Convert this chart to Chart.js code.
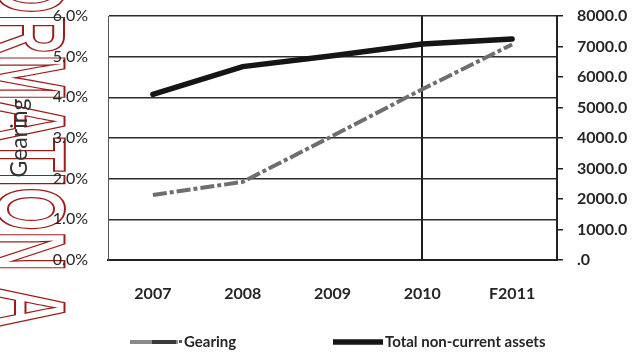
<!DOCTYPE html>
<html>
<head>
<meta charset="utf-8">
<script src="https://cdn.jsdelivr.net/npm/chart.js@4/dist/chart.umd.min.js"></script>
<style>
  html, body { margin: 0; padding: 0; background: #fff; overflow: hidden; }
  #wrap { width: 644px; height: 355px; }
</style>
</head>
<body>
<div id="wrap"><canvas id="c" width="644" height="355"></canvas></div>
<script>
// Years on the category axis
const categories = ['2007', '2008', '2009', '2010', 'F2011'];
// Gearing, percent (left axis)
const gearing = [1.6, 1.92, 3.05, 4.2, 5.3];
// Total non-current assets (right axis)
const nonCurrentAssets = [5430, 6340, 6700, 7080, 7245];
// Axis tick values
const gearingTicks = [0, 1, 2, 3, 4, 5, 6];
const assetTicks = [0, 1000, 2000, 3000, 4000, 5000, 6000, 7000, 8000];
// Series names
const seriesNames = ['Gearing', 'Total non-current assets'];

const FONT = 'Lato, "Open Sans", sans-serif';
const INK = '#262626';

// Red outlined stamp lettering running down the left margin
const stampPlugin = {
  id: 'stamp',
  beforeDraw(chart) {
    const ctx = chart.ctx;
    ctx.save();
    ctx.fillStyle = '#fff';
    ctx.fillRect(0, 0, chart.width, chart.height);
    ctx.translate(-2, -30);
    ctx.rotate(Math.PI / 2);
    ctx.scale(0.585, 1);
    ctx.font = 'bold 96px "Liberation Sans", Arial, sans-serif';
    ctx.textBaseline = 'alphabetic';
    ctx.strokeStyle = '#9c1c1c';
    ctx.lineWidth = 2;
    ctx.strokeText('ORMATION A', 0, 0);
    ctx.restore();
  }
};

// Legend drawn as two entries along the bottom
const legendPlugin = {
  id: 'bottomLegend',
  afterDraw(chart) {
    const ctx = chart.ctx;
    const entries = [
      { x: 130, len: 48, ds: chart.data.datasets[0] },
      { x: 333, len: 50, ds: chart.data.datasets[1] }
    ];
    const y = 342;
    ctx.save();
    entries.forEach((e, i) => {
      ctx.beginPath();
      ctx.lineWidth = e.ds.borderWidth;
      ctx.strokeStyle = i === 0 ? '#8a8a8a' : e.ds.borderColor;
      ctx.lineCap = 'butt';
      ctx.moveTo(e.x, y);
      ctx.lineTo(e.x + e.len, y);
      ctx.stroke();
      if (i === 0) {
        // darker second half of the gearing sample
        ctx.beginPath();
        ctx.strokeStyle = '#3a3a3a';
        ctx.moveTo(e.x + 22, y);
        ctx.lineTo(e.x + e.len - 2, y);
        ctx.stroke();
      }
      let tx = e.x + e.len + 2;
      if (i === 0) {
        ctx.fillStyle = '#555';
        ctx.fillRect(e.x + e.len + 1, y - 2, 3, 3);
        tx += 4;
      }
      ctx.fillStyle = INK;
      ctx.font = 'bold 15px ' + FONT;
      ctx.textBaseline = 'middle';
      ctx.textAlign = 'left';
      ctx.fillText(e.ds.label, tx, y);
    });
    ctx.restore();
  }
};

new Chart(document.getElementById('c'), {
  type: 'line',
  data: {
    labels: categories,
    datasets: [
      {
        label: seriesNames[0],
        data: gearing,
        yAxisID: 'y',
        borderColor: '#6e6e6e',
        borderWidth: 4,
        borderDash: [14, 3, 4, 3],
        pointRadius: 0,
        tension: 0,
        fill: false
      },
      {
        label: seriesNames[1],
        data: nonCurrentAssets,
        yAxisID: 'y1',
        borderColor: '#151515',
        borderWidth: 5.5,
        borderCapStyle: 'round',
        pointRadius: 0,
        tension: 0,
        fill: false
      }
    ]
  },
  options: {
    responsive: false,
    animation: false,
    devicePixelRatio: 1,
    layout: { padding: { top: 16, right: 0, bottom: 0, left: 0 } },
    plugins: {
      legend: { display: false },
      tooltip: { enabled: false }
    },
    scales: {
      x: {
        type: 'category',
        offset: true,
        grid: {
          offset: false,
          drawTicks: false,
          color: (c) => (c.index === 3 ? '#1e1e1e' : 'rgba(0,0,0,0)'),
          lineWidth: 2
        },
        border: { display: true, color: '#222', width: 2 },
        ticks: {
          padding: 24,
          color: INK,
          font: { family: FONT, size: 16, weight: 'bold' }
        },
        afterFit: (s) => { s.height = 95; }
      },
      y: {
        position: 'left',
        min: 0,
        max: 6,
        afterBuildTicks: (s) => { s.ticks = gearingTicks.map(v => ({ value: v })); },
        ticks: {
          padding: 0,
          color: INK,
          font: { family: FONT, size: 16 },
          callback: (v) => Number(v).toFixed(1) + '%'
        },
        grid: {
          color: '#2c2c2c',
          lineWidth: 1.6,
          drawTicks: true,
          tickLength: 20,
          tickColor: 'rgba(0,0,0,0)'
        },
        border: { display: true, color: '#555', width: 1 },
        title: {
          display: true,
          text: 'Gearing',
          color: '#333',
          font: { family: FONT, size: 23 },
          padding: { top: 6, bottom: 0 }
        },
        afterFit: (s) => { s.width = 108; }
      },
      y1: {
        position: 'right',
        min: 0,
        max: 8000,
        afterBuildTicks: (s) => { s.ticks = assetTicks.map(v => ({ value: v })); },
        ticks: {
          padding: 0,
          color: INK,
          font: { family: FONT, size: 16, weight: 'bold' },
          callback: (v) => (v === 0 ? '.0' : Number(v).toFixed(1))
        },
        grid: {
          drawOnChartArea: false,
          drawTicks: true,
          tickLength: 20,
          tickBorderDash: [5, 40],
          tickColor: '#222',
          lineWidth: 1.5
        },
        border: { display: true, color: '#222', width: 2 },
        afterFit: (s) => { s.width = 87; }
      }
    }
  },
  plugins: [stampPlugin, legendPlugin]
});
</script>
</body>
</html>
